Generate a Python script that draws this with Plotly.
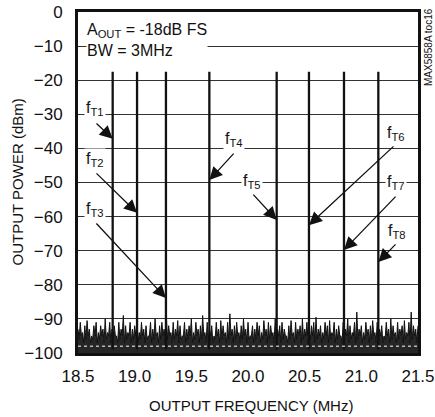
import numpy as np
import plotly.graph_objects as go

# ---------------- data ----------------
tone_labels = ["T1", "T2", "T3", "T4", "T5", "T6", "T7", "T8"]
tone_freq_mhz = [18.806, 19.021, 19.276, 19.659, 20.253, 20.538, 20.847, 21.150]
tone_peak_dbm = [-17.5, -17.5, -17.5, -17.5, -17.5, -17.5, -17.5, -17.5]
tone_base_dbm = -99.0

# arrow tip level (dBm) on each tone marker
arrow_tip_dbm = [-37.2, -58.9, -83.9, -49.3, -61.0, -62.5, -69.8, -73.3]

# spectrum noise floor samples (dBm), 18.5 .. 21.5 MHz
noise_db = [
    -93, -96, -91, -95, -94, -97, -92, -96, -90.5, -95, -93, -97, -95, -96, -92, -95, -91, -97, -94, -96,
    -92, -95, -93, -97, -90, -96, -94, -95, -91, -97, -93, -96, -92, -95, -95, -97, -91, -96, -93, -95,
    -89, -97, -92, -96, -94, -95, -91, -97, -93, -96, -92, -95, -90.5, -97, -94, -96, -91, -95, -93, -97,
    -92, -96, -95, -95, -91, -97, -93, -96, -90, -95, -94, -97, -92, -96, -91, -95, -93, -97, -89.5, -96,
    -92, -95, -94, -97, -91, -96, -93, -95, -90.5, -97, -92, -96, -95, -95, -91, -97, -93, -96, -92, -95,
    -90, -97, -94, -96, -91, -95, -93, -97, -92, -96, -89, -95, -94, -97, -91, -96, -93, -95, -92, -97,
    -95, -96, -91, -95, -93, -97, -90.5, -96, -92, -95, -94, -97, -91, -96, -88.5, -95, -93, -97, -92, -96,
    -91, -95, -94, -97, -92, -96, -90, -95, -93, -97, -91, -96, -95, -95, -92, -97, -93, -96, -91, -95,
    -92, -97, -94, -96, -90.5, -95, -93, -97, -91, -96, -92, -95, -94, -97, -90, -96, -93, -95, -92, -97,
    -91, -96, -93, -95, -95, -97, -92, -96, -90.5, -95, -94, -97, -91, -96, -93, -95, -92, -97, -90, -96,
    -93, -95, -91, -97, -94, -96, -92, -95, -91, -97, -89.5, -96, -93, -95, -92, -97, -94, -96, -91, -95,
    -92, -97, -90.5, -96, -94, -95, -91, -97, -93, -96, -92, -95, -95, -97, -91, -96, -93, -95, -90, -97,
    -92, -96, -94, -95, -91, -97, -88, -96, -93, -95, -92, -97, -94, -96, -91, -95, -93, -97, -92, -96,
    -90.5, -95, -94, -97, -91, -96, -93, -95, -92, -97, -95, -96, -91, -95, -93, -97, -90, -96, -92, -95,
    -94, -97, -91, -96, -93, -95, -92, -97, -90.5, -96, -94, -95, -91, -97, -88, -96, -92, -95, -93, -97,
    -92,
]
x_ticks = [18.5, 19.0, 19.5, 20.0, 20.5, 21.0, 21.5]
x_tick_text = ["18.5", "19.0", "19.5", "20.0", "20.5", "21.0", "21.5"]
y_ticks = [0, -10, -20, -30, -40, -50, -60, -70, -80, -90, -100]

# ---------------- figure ----------------
FONT = "Liberation Sans, Arial, sans-serif"
W, H = 435, 417
ML, MR, MT, MB = 78, 17, 12, 64
INK = "#111111"

noise_freq = np.linspace(18.5, 21.5, len(noise_db))

fig = go.Figure()
# floor reference for filling the noise band
fig.add_trace(go.Scatter(x=[18.5, 21.5], y=[-100, -100], mode="lines",
                         line=dict(color=INK, width=0), hoverinfo="skip"))
fig.add_trace(go.Scatter(x=noise_freq, y=noise_db, mode="lines", fill="tonexty",
                         fillcolor="#262626",
                         line=dict(color=INK, width=1), hoverinfo="skip"))

tx, ty = [], []
for f, p in zip(tone_freq_mhz, tone_peak_dbm):
    tx += [f, f, None]
    ty += [tone_base_dbm, p, None]
fig.add_trace(go.Scatter(x=tx, y=ty, mode="lines",
                         line=dict(color=INK, width=2.3), hoverinfo="skip"))

# label placement (data coordinates) and arrow tails
label_pos = [(18.65, -28.3), (18.65, -43.4), (18.65, -58.0), (19.876, -37.5),
             (20.035, -49.6), (21.306, -35.5), (21.306, -50.1), (21.315, -64.5)]
arrow_tail = [(18.65, -32.3), (18.65, -46.9), (18.65, -61.6), (19.885, -41.1),
              (20.035, -53.1), (21.297, -39.0), (21.315, -53.7), (21.315, -67.7)]

annotations = []
for lab, (lx, ly), (ax_, ay_), f, tip in zip(tone_labels, label_pos, arrow_tail,
                                              tone_freq_mhz, arrow_tip_dbm):
    annotations.append(dict(x=lx, y=ly, xref="x", yref="y", showarrow=False,
                            text=f"f<sub>{lab}</sub>", bgcolor="white", borderpad=1,
                            font=dict(family=FONT, size=16, color=INK)))
    annotations.append(dict(x=f, y=tip, ax=ax_, ay=ay_, xref="x", yref="y",
                            axref="x", ayref="y", text="", showarrow=True,
                            arrowhead=2, arrowsize=2.0, arrowwidth=1.3,
                            arrowcolor=INK, standoff=0, startstandoff=0))


def px_x(p):
    return (p - ML) / (W - ML - MR)


def px_y(p):
    return (H - MB - p) / (H - MT - MB)


annotations += [
    dict(x=px_x(86), y=px_y(40), xref="paper", yref="paper", xanchor="left",
         yanchor="middle", align="left", showarrow=False, bgcolor="white", borderpad=0,
         text="A<sub>OUT</sub> = -18dB FS<br>BW = 3MHz",
         font=dict(family=FONT, size=16, color=INK)),
    dict(x=px_x(17), y=0.5, xref="paper", yref="paper", xanchor="center",
         yanchor="middle", textangle=-90,
         showarrow=False, text="OUTPUT POWER (dBm)",
         font=dict(family=FONT, size=15, color=INK)),
    dict(x=px_x(251), y=px_y(405), xref="paper", yref="paper", xanchor="center",
         yanchor="middle", showarrow=False, text="OUTPUT FREQUENCY (MHz)",
         font=dict(family=FONT, size=15, color=INK)),
    dict(x=px_x(428), y=px_y(47), xref="paper", yref="paper", xanchor="center",
         yanchor="middle", textangle=-90,
         showarrow=False, text="MAX5858A toc16",
         font=dict(family=FONT, size=10, color=INK)),
]

fig.update_layout(
    width=W, height=H, margin=dict(l=ML, r=MR, t=MT, b=MB, autoexpand=False),
    paper_bgcolor="white", plot_bgcolor="white", showlegend=False,
    font=dict(family=FONT, size=17, color=INK),
    annotations=annotations,
    shapes=[dict(type="line", xref="paper", yref="y", x0=0, x1=1, y0=-98, y1=-98,
                 line=dict(color="white", width=1, dash="3px,3px"), layer="above")],
)
fig.update_xaxes(range=[18.5, 21.5], tickvals=x_ticks, ticktext=x_tick_text,
                 showgrid=False, zeroline=False, showline=True, mirror=True,
                 linecolor=INK, linewidth=3, ticks="", ticklabelstandoff=6,
                 automargin=False,
                 tickfont=dict(family=FONT, size=17, color=INK))
fig.update_yaxes(range=[-100, 0], tickvals=y_ticks, showgrid=True,
                 gridcolor="#333333", gridwidth=1.3, zeroline=False, showline=True,
                 mirror=True, linecolor=INK, linewidth=3, ticks="",
                 ticklabelstandoff=9, automargin=False,
                 tickfont=dict(family=FONT, size=17, color=INK))

fig.write_html("out.html")
